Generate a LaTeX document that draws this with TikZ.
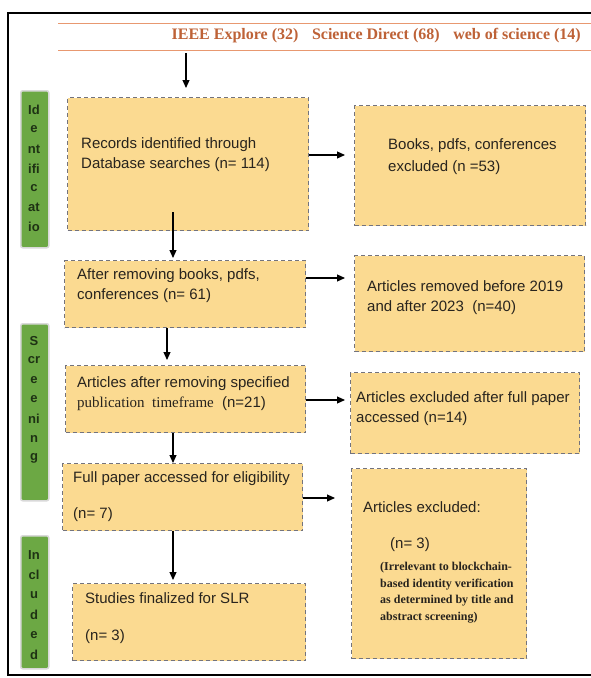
\documentclass[tikz,border=0pt]{standalone}
\usepackage{fontspec}
\setmainfont{Liberation Serif}
\setsansfont{Liberation Sans}
\usepackage{xcolor}
\usetikzlibrary{arrows.meta,calc}
\definecolor{boxfill}{RGB}{251,218,145}
\definecolor{boxline}{RGB}{115,115,125}
\definecolor{stagegreen}{RGB}{108,168,68}
\definecolor{stageink}{RGB}{30,50,20}
\definecolor{srcink}{RGB}{190,98,55}
\definecolor{srcline}{RGB}{232,152,112}
\definecolor{ink}{RGB}{40,36,30}

\begin{document}
\begin{tikzpicture}
	[
		x=1pt,y=-1pt,
		box/.style={
				draw=boxline,fill=boxfill,dash pattern=on 4pt off 3pt,line width=1.1pt,
				anchor=north west,inner sep=0pt},
		stage/.style={draw=black!15,line width=1.5pt,fill=stagegreen,rounded corners=2pt,
				anchor=north west,inner sep=0pt,minimum width=28pt},
		letter/.style={font=\sffamily\bfseries\fontsize{13}{13}\selectfont,text=stageink,inner sep=0pt},
		txt/.style={anchor=base west,align=left,inner sep=0pt,text=ink,
				font=\sffamily\fontsize{15}{20}\selectfont},
		note/.style={anchor=base west,align=left,inner sep=0pt,text=ink,
				font=\bfseries\fontsize{12}{16.5}\selectfont},
		arr/.style={-{Triangle[length=8pt,width=7pt]},line width=1.1pt}]
	\fill[white] (0,0) rectangle (591,678);
	\useasboundingbox (0,0) rectangle (591,678);
	\draw[line width=1.2pt] (591,13) -- (8,13) -- (8,675) -- (591,675);

	% sources
	\draw[srcline,line width=1pt] (58,23) -- (591,23) (58,50) -- (591,50);
	\node[anchor=base east,inner sep=0pt,text=srcink,font=\bfseries\fontsize{16}{16}\selectfont]
	(src) at (581,39) {IEEE Explore (32)\hspace{0.6em} Science Direct (68)\hspace{0.6em} web of science (14)};
	\coordinate (srcfoot) at (186,50);

	% stages
	\node[stage,minimum height=157pt] (ident) at (20,90) {};
	\node[stage,minimum height=177pt] (screen) at (20,323) {};
	\node[stage,minimum height=133pt] (incl) at (20,535) {};
	\foreach \ltr [count=\i] in {Id,e,nt,ifi,c,at,io}
		\node[letter] (ident-\i) at (34,{110+19.5*(\i-1)}) {\ltr};
	\foreach \ltr [count=\i] in {S,cr,e,e,ni,n,g}
		\node[letter] (screen-\i) at (34,{341+19.5*(\i-1)}) {\ltr};
	\foreach \ltr [count=\i] in {In,cl,u,d,e,d}
		\node[letter] (incl-\i) at (34,{555+20*(\i-1)}) {\ltr};

	% boxes (texts sit on the baseline of their last line)
	\node[box,minimum width=241pt,minimum height=133pt] (rec) at (67,97) {};
	\node[box,minimum width=231pt,minimum height=120pt] (books) at (354,105) {};
	\node[box,minimum width=241pt,minimum height=67pt] (removed) at (64,260) {};
	\node[box,minimum width=230pt,minimum height=96pt] (years) at (354,255) {};
	\node[box,minimum width=240pt,minimum height=67pt] (timeframe) at (65,365) {};
	\node[box,minimum width=229pt,minimum height=81pt] (fullex) at (350,372) {};
	\node[box,minimum width=240pt,minimum height=67pt] (eligible) at (62,463) {};
	\node[box,minimum width=175pt,minimum height=190pt] (excluded) at (351,468) {};
	\node[box,minimum width=233pt,minimum height=77pt] (final) at (72,583) {};

	\node[txt] (rec-t) at (81,168) {Records identified through\\Database searches (n= 114)};
	\node[txt] (books-t) at (388,171) {Books, pdfs, conferences\\[2pt]excluded (n =53)};
	\node[txt] (removed-t) at (77,299) {After removing books, pdfs,\\conferences (n= 61)};
	\node[txt] (years-t) at (367,311) {Articles removed before 2019\\and after 2023\ \ (n=40)};
	\node[txt] (timeframe-t) at (77,407) {Articles after removing specified\\{\rmfamily publication\ \ timeframe}\ \ (n=21)};
	\node[txt] (fullex-t) at (356,422) {Articles excluded after full paper\\accessed (n=14)};
	\node[txt] (eligible-t) at (73,518) {Full paper accessed for eligibility\\[16pt](n= 7)};
	\node[txt] (excluded-t) at (363,512) {Articles excluded:};
	\node[txt] (excluded-n) at (390,548) {(n= 3)};
	\node[note] (excluded-note) at (380,620) {(Irrelevant to blockchain-\\based identity verification\\as determined by title and\\abstract screening)};
	\node[txt] (final-t) at (85,640) {Studies finalized for SLR\\[17pt](n= 3)};

	% flow
	\draw[arr,shorten <=3pt,shorten >=9pt] (srcfoot) -- (srcfoot |- rec.north);
	\draw[arr,shorten >=9pt] (rec.east |- 0,155) -- (books.west |- 0,155);
	\draw[arr,shorten >=2pt] ($(rec.south -| 173,0)+(0,-19)$) -- (removed.north -| 173,0);
	\draw[arr,shorten >=9pt] (removed.east |- 0,278) -- (years.west |- 0,278);
	\draw[arr,shorten >=5pt] (removed.south -| 167,0) -- (timeframe.north -| 167,0);
	\draw[arr,shorten >=5pt] (timeframe.east |- 0,400) -- (fullex.west |- 0,400);
	\draw[arr] (timeframe.south -| 173,0) -- (eligible.north -| 173,0);
	\draw[arr,shorten >=16pt] (eligible.east |- 0,498) -- (excluded.west |- 0,498);
	\draw[arr,shorten >=3pt] (eligible.south -| 173,0) -- (final.north -| 173,0);
\end{tikzpicture}
\end{document}
